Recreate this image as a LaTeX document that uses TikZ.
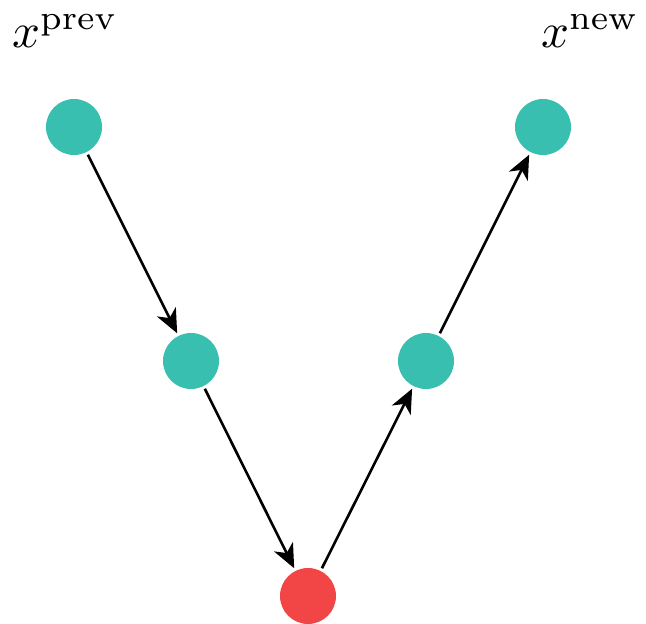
\documentclass[tikz,border=0pt]{standalone}
\usepackage{graphicx}
\usetikzlibrary{arrows.meta}
\definecolor{tealc}{HTML}{38BFB0}
\definecolor{redc}{HTML}{F24545}
\begin{document}
\begin{tikzpicture}[x=1pt,y=-1pt,
  dot/.style={circle,fill=tealc,minimum size=56pt,inner sep=0pt,outer sep=3pt},
  reddot/.style={dot,fill=redc},
  conn/.style={line width=2.6pt,-{Stealth[length=24pt,width=21pt,inset=7pt]}},
  lab/.style={inner sep=0pt,anchor=base west}]
\useasboundingbox (0,0) rectangle (646,624);
\node[dot] (a) at (74,127) {};
\node[dot] (b) at (191,361) {};
\node[reddot] (c) at (308,596) {};
\node[dot] (d) at (426,361) {};
\node[dot] (e) at (543,127) {};
\draw[conn] (a) -- (b);
\draw[conn] (b) -- (c);
\draw[conn] (c) -- (d);
\draw[conn] (d) -- (e);
\node[lab] (lp) at (12,47) {\scalebox{4.9}{$x^{\mathrm{prev}}$}};
\node[lab] (ln) at (541,47) {\scalebox{4.9}{$x^{\mathrm{new}}$}};
\end{tikzpicture}
\end{document}
